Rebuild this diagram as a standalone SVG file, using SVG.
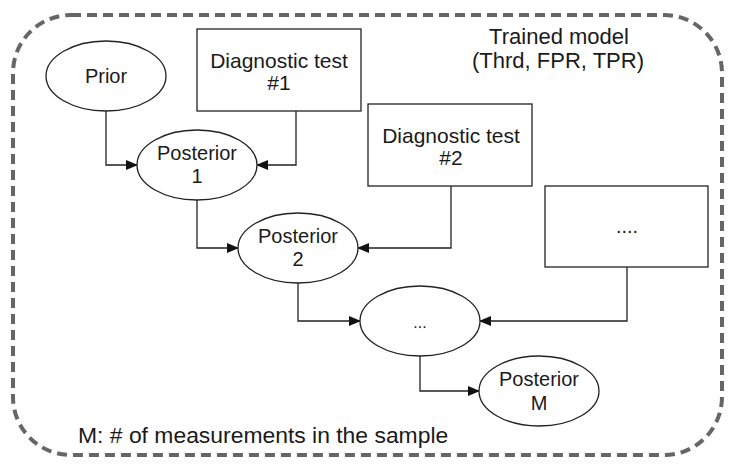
<svg xmlns="http://www.w3.org/2000/svg" width="730" height="466" viewBox="0 0 730 466">
<style>
text{font-family:"Liberation Sans",Arial,sans-serif;font-size:20px;fill:#1a1a1a;text-anchor:middle}
text.diag{font-size:21px}
text.title{font-size:22px}
text.note{font-size:22.9px;text-anchor:start}
text.dots{font-size:16px}
.node{fill:#fff;stroke:#222;stroke-width:1.3}
.conn{fill:none;stroke:#222;stroke-width:1.3;marker-end:url(#ah)}
</style>
<defs>
<marker id="ah" markerWidth="12" markerHeight="10" refX="11" refY="5" orient="auto" markerUnits="userSpaceOnUse">
<path d="M0,0 L12,5 L0,10 Z" fill="#111"/>
</marker>
</defs>
<rect width="730" height="466" fill="#fff"/>
<g id="frame">
<rect x="13" y="15" width="709" height="440" rx="58" ry="58" fill="none" stroke="#666" stroke-width="4" stroke-dasharray="10,6"/>
<text class="title" x="559" y="44">Trained model</text>
<text class="title" x="558" y="68">(Thrd, FPR, TPR)</text>
<text class="note" x="78" y="443">M: # of measurements in the sample</text>
</g>
<g id="connectors">
<path class="conn" d="M106,111 V165 H137"/>
<path class="conn" d="M296,111 V165 H257"/>
<path class="conn" d="M197,200 V248 H238"/>
<path class="conn" d="M451,186 V248 H358"/>
<path class="conn" d="M298,283 V321 H360"/>
<path class="conn" d="M627,267 V321 H480"/>
<path class="conn" d="M420,356 V391 H479"/>
</g>
<g id="prior">
<ellipse class="node" cx="106" cy="76" rx="60" ry="35"/>
<text x="106" y="83">Prior</text>
</g>
<g id="test1">
<rect class="node" x="197" y="29" width="164" height="82"/>
<text class="diag" x="279" y="68">Diagnostic test</text>
<text class="diag" x="279" y="90">#1</text>
</g>
<g id="posterior1">
<ellipse class="node" cx="197" cy="165" rx="60" ry="35"/>
<text x="197" y="160">Posterior</text>
<text x="197" y="183">1</text>
</g>
<g id="test2">
<rect class="node" x="368" y="104" width="164" height="82"/>
<text class="diag" x="451" y="143">Diagnostic test</text>
<text class="diag" x="451" y="165">#2</text>
</g>
<g id="posterior2">
<ellipse class="node" cx="298" cy="248" rx="60" ry="35"/>
<text x="298" y="243">Posterior</text>
<text x="298" y="266">2</text>
</g>
<g id="testN">
<rect class="node" x="545" y="186" width="163" height="81"/>
<text x="627" y="233">....</text>
</g>
<g id="posteriorDots">
<ellipse class="node" cx="420" cy="321" rx="60" ry="35"/>
<text class="dots" x="420" y="328">...</text>
</g>
<g id="posteriorM">
<ellipse class="node" cx="539" cy="391" rx="60" ry="35"/>
<text x="539" y="386">Posterior</text>
<text x="539" y="410">M</text>
</g>
</svg>
